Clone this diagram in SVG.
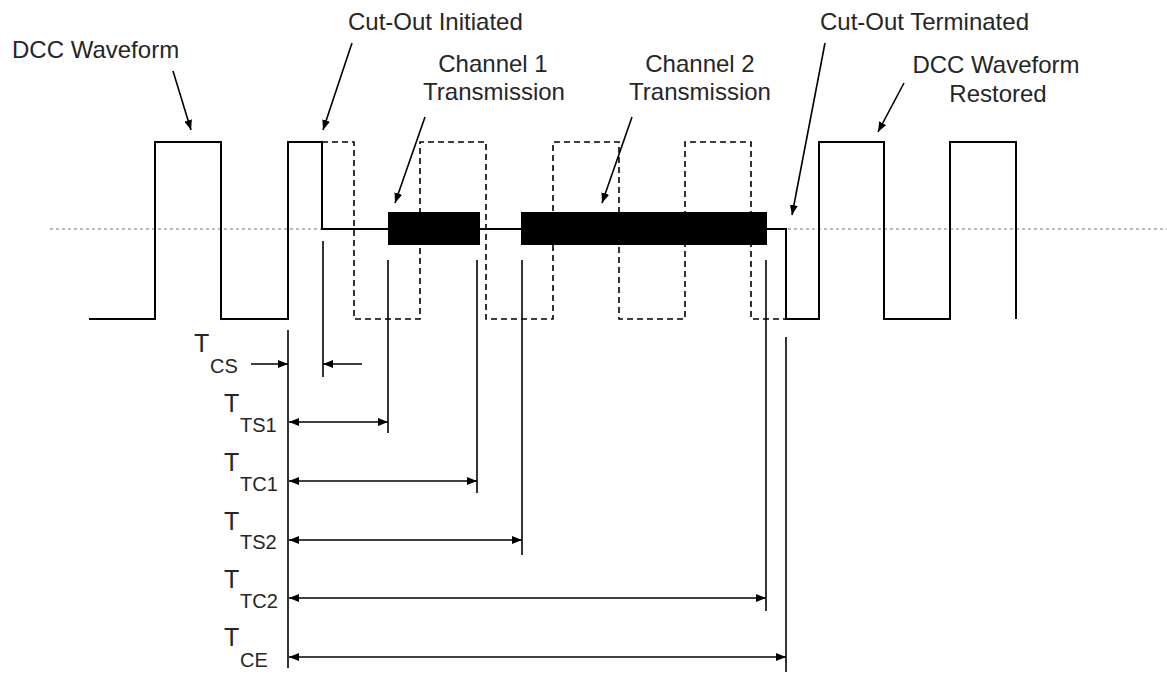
<svg xmlns="http://www.w3.org/2000/svg" width="1167" height="675" viewBox="0 0 1167 675">
<style>
.txt{font-family:"Liberation Sans",Arial,sans-serif;fill:#262626}
.lbl{font-size:24px}
.tb{font-size:25px}
.ts{font-size:20px}
.wave{fill:none;stroke:#000;stroke-width:2}
.dash{fill:none;stroke:#000;stroke-width:1.6;stroke-dasharray:6,4}
.ref{fill:none;stroke:#000;stroke-width:1.6}
.dim{fill:none;stroke:#000;stroke-width:1.5}
.ptr{fill:none;stroke:#000;stroke-width:1.6}
</style>
<defs>
<marker id="ah" viewBox="0 0 10 8" refX="10" refY="4" markerWidth="10" markerHeight="8" markerUnits="userSpaceOnUse" orient="auto-start-reverse">
<path d="M0,0 L10,4 L0,8 z" fill="#000"/>
</marker>
</defs>
<rect width="1167" height="675" fill="#fff"/>

<g id="centerline">
<line x1="50" y1="229" x2="1167" y2="229" stroke="#777" stroke-width="1.2" stroke-dasharray="3,3"/>
</g>

<g id="dashed-waveform">
<path class="dash" d="M322,142 H354 V319 H420 V142 H486 V319 H553 V142 H619 V319 H685 V142 H751 V319 H786"/>
</g>

<g id="dcc-waveform">
<path class="wave" d="M89,319 H155 V142 H221 V319 H288 V142 H322 V229 H388 M480,229 H521 M766,229 H786 V319 H819 V142 H884 V319 H950 V142 H1016 V319"/>
</g>

<g id="channel1">
<rect x="388" y="212" width="92" height="33" fill="#000"/>
</g>
<g id="channel2">
<rect x="521" y="212" width="246" height="33" fill="#000"/>
</g>

<g id="reference-lines">
<line class="ref" x1="288" y1="330" x2="288" y2="668"/>
<line class="ref" x1="323" y1="241" x2="323" y2="377"/>
<line class="ref" x1="388" y1="260" x2="388" y2="433"/>
<line class="ref" x1="477" y1="260" x2="477" y2="493"/>
<line class="ref" x1="522" y1="260" x2="522" y2="555"/>
<line class="ref" x1="766" y1="260" x2="766" y2="611"/>
<line class="ref" x1="786" y1="337" x2="786" y2="672"/>
</g>

<g id="connectors">
<line class="ptr" x1="173" y1="71" x2="191" y2="130" marker-end="url(#ah)"/>
<line class="ptr" x1="352" y1="43" x2="323" y2="130" marker-end="url(#ah)"/>
<line class="ptr" x1="425" y1="117" x2="395" y2="203" marker-end="url(#ah)"/>
<line class="ptr" x1="632" y1="117" x2="602" y2="203" marker-end="url(#ah)"/>
<line class="ptr" x1="825" y1="43" x2="792" y2="215" marker-end="url(#ah)"/>
<line class="ptr" x1="904" y1="83" x2="878" y2="132" marker-end="url(#ah)"/>

<line class="dim" x1="251" y1="364" x2="288" y2="364" marker-end="url(#ah)"/>
<line class="dim" x1="362" y1="364" x2="323" y2="364" marker-end="url(#ah)"/>
<line class="dim" x1="289" y1="422" x2="388" y2="422" marker-start="url(#ah)" marker-end="url(#ah)"/>
<line class="dim" x1="289" y1="481" x2="477" y2="481" marker-start="url(#ah)" marker-end="url(#ah)"/>
<line class="dim" x1="289" y1="540" x2="522" y2="540" marker-start="url(#ah)" marker-end="url(#ah)"/>
<line class="dim" x1="289" y1="598" x2="766" y2="598" marker-start="url(#ah)" marker-end="url(#ah)"/>
<line class="dim" x1="289" y1="657" x2="786" y2="657" marker-start="url(#ah)" marker-end="url(#ah)"/>
</g>

<g id="labels">
<text class="txt lbl" x="12" y="58">DCC Waveform</text>
<text class="txt lbl" x="348" y="30">Cut-Out Initiated</text>
<text class="txt lbl" x="493" y="72" text-anchor="middle">Channel 1</text>
<text class="txt lbl" x="494" y="100" text-anchor="middle">Transmission</text>
<text class="txt lbl" x="700" y="72" text-anchor="middle">Channel 2</text>
<text class="txt lbl" x="700" y="100" text-anchor="middle">Transmission</text>
<text class="txt lbl" x="820" y="30">Cut-Out Terminated</text>
<text class="txt lbl" x="996" y="73" text-anchor="middle">DCC Waveform</text>
<text class="txt lbl" x="998" y="102" text-anchor="middle">Restored</text>
</g>

<g id="timing-labels">
<text class="txt tb" x="194" y="352">T</text><text class="txt ts" x="210" y="373">CS</text>
<text class="txt tb" x="224" y="412">T</text><text class="txt ts" x="240" y="432">TS1</text>
<text class="txt tb" x="224" y="471">T</text><text class="txt ts" x="240" y="491">TC1</text>
<text class="txt tb" x="224" y="530">T</text><text class="txt ts" x="240" y="549">TS2</text>
<text class="txt tb" x="224" y="588">T</text><text class="txt ts" x="240" y="608">TC2</text>
<text class="txt tb" x="224" y="646">T</text><text class="txt ts" x="240" y="667">CE</text>
</g>
</svg>
